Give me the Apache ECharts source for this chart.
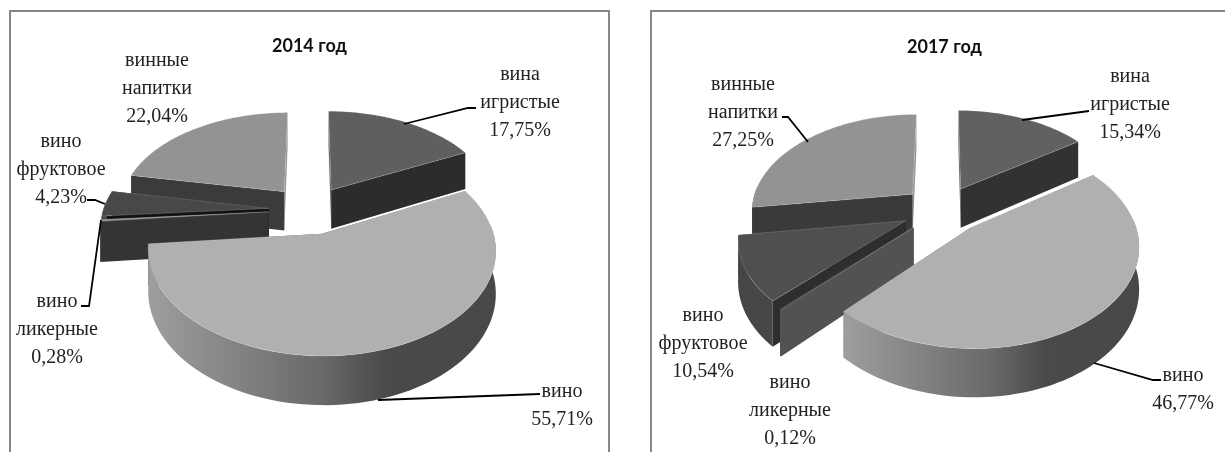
<!DOCTYPE html>
<html>
<head>
<meta charset="utf-8">
<style>
  html, body { margin: 0; padding: 0; background: #fff; }
  #chart { width: 1225px; height: 452px; }
</style>
<script src="https://cdn.jsdelivr.net/npm/echarts@6/dist/echarts.min.js"></script>
</head>
<body>
<div id="chart"></div>
<script>
// values, in slice order clockwise from 12 o'clock
const categories = ['вина игристые', 'вино', 'вино ликерные', 'вино фруктовое', 'винные напитки']
const values2014 = [17.75, 55.71, 0.28, 4.23, 22.04]
const values2017 = [15.34, 46.77, 0.12, 10.54, 27.25]
const years = ['2014 год', '2017 год']

// styles per slice
const topColors2014 = ['#5f5f5f', '#b0b0b0', '#8c8c8c', '#484848', '#939393']
const wallColors2014 = ['#2c2c2c', '#3a3a3a', '#343434', '#111111', '#3b3b3b']
const topColors2017 = ['#616161', '#b0b0b0', '#3a3a3a', '#4f4f4f', '#939393']
const wallColors2017 = ['#323232', '#3a3a3a', '#525252', '#2e2e2e', '#3a3a3a']

// centre of each label, and its leader line
const labelPos2014 = [[520, 103], [562, 406], [57, 330], [61, 170], [157, 89]]
const labelPos2017 = [[1130, 105], [1183, 390], [790, 411], [703, 344], [743, 113]]
const leaders2014 = [
  [[476, 108], [468, 108], [404, 124]],
  [[540, 394], [378, 400]],
  [[81, 306], [89, 306], [101, 220]],
  [[87, 200], [95, 200], [105, 204]],
  null
]
const leaders2017 = [
  [[1089, 111], [1022, 120]],
  [[1161, 380], [1153, 380], [1094, 363]],
  null,
  null,
  [[782, 117], [788, 117], [808, 142]]
]

// 3d look: disc seen in perspective, slices pushed out by explode
const views = [
  { x: 310, y: 209.7, sx: 165.5, sy: 96, persp: 0.15, depth: 40, explode: 0.25 },
  { x: 942.5, y: 209.6, sx: 162, sy: 96, persp: 0.15, depth: 40, explode: 0.25 }
]

function project(view, u, v, drop) {
  const w = 1 + view.persp * v
  return [view.x + view.sx * u / w, view.y - view.sy * v / w + (drop ? view.depth / w : 0)]
}

function sliceAngles(values) {
  const total = values.reduce(function (a, b) { return a + b }, 0)
  let sum = 0
  return values.map(function (val) {
    const start = sum / total * Math.PI * 2
    sum += val
    return [start, sum / total * Math.PI * 2]
  })
}

function wallFace(view, ax, ay, t) {
  const rx = ax + Math.sin(t)
  const ry = ay + Math.cos(t)
  return [project(view, ax, ay), project(view, rx, ry), project(view, rx, ry, true), project(view, ax, ay, true)]
}

function outerFill(i, wallColors) {
  if (i === 1) {
    return new echarts.graphic.LinearGradient(0, 0, 1, 0, [
      { offset: 0, color: '#9e9e9e' },
      { offset: 0.5, color: '#696969' },
      { offset: 0.68, color: '#4a4a4a' },
      { offset: 1, color: '#484848' }
    ])
  }
  return i === 3 ? '#464646' : wallColors[i]
}

function makeRender(view, values, topColors, wallColors, labelPos, leaders) {
  const angles = sliceAngles(values)
  return function (params, api) {
    const i = api.value(0)
    const a0 = angles[i][0]
    const a1 = angles[i][1]
    const mid = (a0 + a1) / 2
    const ax = view.explode * Math.sin(mid)
    const ay = view.explode * Math.cos(mid)
    const children = []

    // radial walls, back one first. the one at 12 o'clock is seen edge on and takes the top colour
    const walls = [[a1, Math.cos(a1)], [a0, Math.cos(a0)]].sort(function (p, q) { return q[1] - p[1] })
    walls.forEach(function (wall) {
      children.push({
        type: 'polygon',
        shape: { points: wallFace(view, ax, ay, wall[0]) },
        style: { fill: wall[1] > 0.99 ? topColors[i] : wallColors[i] }
      })
    })

    // outer wall, only the part facing us
    const from = Math.max(a0, 85 * Math.PI / 180)
    const to = Math.min(a1, 275 * Math.PI / 180)
    if (to > from) {
      const upper = []
      const lower = []
      for (let k = 0; k <= 80; k++) {
        const t = from + (to - from) * k / 80
        upper.push(project(view, ax + Math.sin(t), ay + Math.cos(t)))
        lower.push(project(view, ax + Math.sin(t), ay + Math.cos(t), true))
      }
      children.push({
        type: 'polygon',
        shape: { points: upper.concat(lower.reverse()) },
        style: { fill: outerFill(i, wallColors) }
      })
    }

    // top face
    const top = [project(view, ax, ay)]
    for (let k = 0; k <= 80; k++) {
      const t = a0 + (a1 - a0) * k / 80
      top.push(project(view, ax + Math.sin(t), ay + Math.cos(t)))
    }
    children.push({
      type: 'polygon',
      shape: { points: top },
      style: { fill: topColors[i], stroke: 'rgba(255,255,255,0.25)', lineWidth: 0.7 }
    })

    // leader line and label
    if (leaders[i]) {
      children.push({
        type: 'polyline',
        shape: { points: leaders[i] },
        style: { fill: null, stroke: '#000', lineWidth: 1.8 }
      })
    }
    const text = categories[i].split(' ').join('\n') + '\n' + api.value(1).toFixed(2).replace('.', ',') + '%'
    children.push({
      type: 'text',
      style: {
        text: text,
        x: labelPos[i][0],
        y: labelPos[i][1],
        fill: '#222',
        font: '20px "Liberation Serif"',
        lineHeight: 28,
        align: 'center',
        verticalAlign: 'middle'
      }
    })
    return { type: 'group', children: children }
  }
}

// paint back slices first
function paintOrder(values) {
  const angles = sliceAngles(values)
  return values.map(function (val, i) { return [i, val] }).sort(function (p, q) {
    const a = angles[p[0]]
    const b = angles[q[0]]
    return Math.cos((b[0] + b[1]) / 2) - Math.cos((a[0] + a[1]) / 2)
  })
}

const myChart = echarts.init(document.getElementById('chart'))
const option = {
  animation: false,
  backgroundColor: '#fff',
  title: [
    { text: years[0], left: 267, top: 32, textStyle: { fontFamily: 'Lato', fontWeight: 'bold', fontSize: 18, color: '#111' } },
    { text: years[1], left: 902, top: 33, textStyle: { fontFamily: 'Lato', fontWeight: 'bold', fontSize: 18, color: '#111' } }
  ],
  graphic: [
    { type: 'polyline', shape: { points: [[10, 452], [10, 11], [609, 11], [609, 452]] }, style: { fill: null, stroke: '#868686', lineWidth: 2 } },
    { type: 'polyline', shape: { points: [[651, 452], [651, 11], [1225, 11]] }, style: { fill: null, stroke: '#868686', lineWidth: 2 } }
  ],
  series: [
    {
      type: 'custom',
      coordinateSystem: 'none',
      silent: true,
      data: paintOrder(values2014),
      renderItem: makeRender(views[0], values2014, topColors2014, wallColors2014, labelPos2014, leaders2014)
    },
    {
      type: 'custom',
      coordinateSystem: 'none',
      silent: true,
      data: paintOrder(values2017),
      renderItem: makeRender(views[1], values2017, topColors2017, wallColors2017, labelPos2017, leaders2017)
    }
  ]
}
myChart.setOption(option)
</script>
</body>
</html>
